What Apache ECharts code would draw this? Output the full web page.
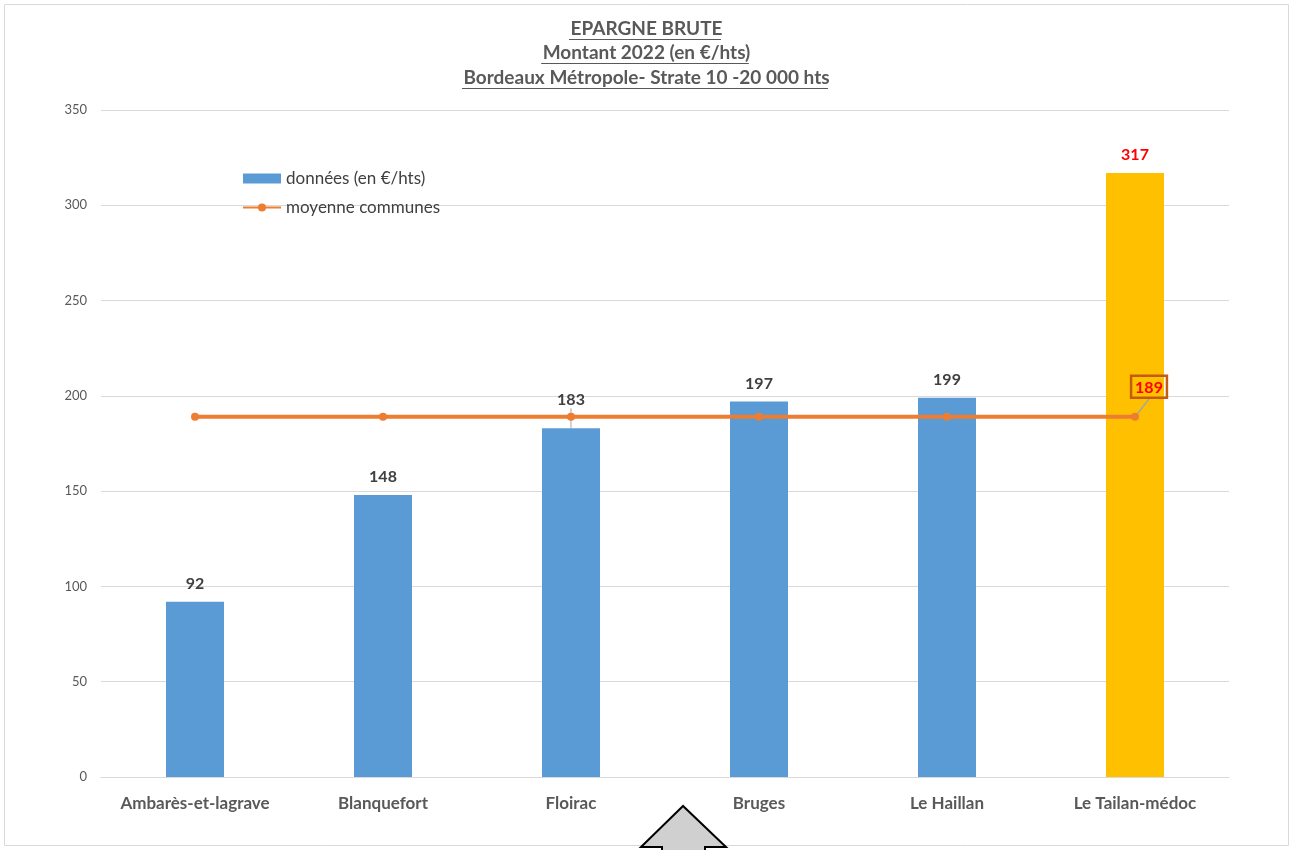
<!DOCTYPE html>
<html>
<head>
<meta charset="utf-8">
<script src="https://cdn.jsdelivr.net/npm/echarts@6/dist/echarts.min.js"></script>
<style>
  html, body { margin: 0; padding: 0; background: #fff; }
  #chart { width: 1293px; height: 850px; }
</style>
</head>
<body>
<div id="chart"></div>
<script>
// Épargne brute 2022 par commune (€/habitant)
const communes = ['Ambarès-et-lagrave', 'Blanquefort', 'Floirac', 'Bruges', 'Le Haillan', 'Le Tailan-médoc'];
const donnees = [92, 148, 183, 197, 199, 317];
const moyenne = [189, 189, 189, 189, 189, 189];
const titleLines = ['EPARGNE BRUTE', 'Montant 2022 (en €/hts)', 'Bordeaux Métropole- Strate 10 -20 000 hts'];
const FONT = 'Lato, "Open Sans", sans-serif';

const chart = echarts.init(document.getElementById('chart'));

// underlined title lines
const ctx = document.createElement('canvas').getContext('2d');
ctx.font = 'bold 19px ' + FONT;
const titleY = [30, 54, 79];
const titleGraphics = [];
titleLines.forEach((t, i) => {
  const w = ctx.measureText(t).width;
  titleGraphics.push({
    type: 'text', left: 'center', top: titleY[i] - 11,
    style: { text: t, fill: '#595959', font: 'bold 19px ' + FONT }
  });
  titleGraphics.push({
    type: 'line',
    shape: { x1: 645 - w / 2, y1: titleY[i] + 9.5, x2: 645 + w / 2, y2: titleY[i] + 9.5 },
    style: { stroke: '#595959', lineWidth: 1 }
  });
});

const barData = donnees.map((v, i) => {
  if (i === donnees.length - 1) {
    return { value: v, itemStyle: { color: '#ffc000' }, label: { color: '#ff0000' } };
  }
  if (i === 2) {
    return { value: v, labelLine: { show: true } };
  }
  return v;
});

const lineData = moyenne.map((v, i) => i === moyenne.length - 1
  ? {
      value: v,
      label: {
        show: true, position: 'top', color: '#ff0000', fontWeight: 'bold', fontSize: 16,
        fontFamily: FONT, borderColor: '#c55a11', borderWidth: 2.5, padding: [4, 4, 2, 4]
      },
      labelLine: { show: true }
    }
  : v);

chart.setOption({
  animation: false,
  graphic: [
    { type: 'rect', shape: { x: 4.5, y: 4.5, width: 1284, height: 841 },
      style: { fill: 'none', stroke: '#d9d9d9', lineWidth: 1 } },
    ...titleGraphics,
    { type: 'polygon', z: 100,
      shape: { points: [[683, 806], [641, 847], [662, 847], [662, 860], [705, 860], [705, 847], [726, 847]] },
      style: { fill: '#d0d0d0', stroke: '#000', lineWidth: 2 } }
  ],
  legend: {
    orient: 'vertical', left: 237, top: 165, itemGap: 12,
    itemWidth: 38, itemHeight: 10,
    textStyle: { color: '#404040', fontSize: 17, fontFamily: FONT },
    data: [
      { name: 'données (en €/hts)', icon: 'rect' },
      { name: 'moyenne communes' }
    ]
  },
  grid: { left: 101, right: 64, top: 110, bottom: 73 },
  xAxis: {
    type: 'category', data: communes,
    axisLine: { lineStyle: { color: '#d9d9d9', width: 1 } },
    axisTick: { show: false },
    axisLabel: { interval: 0, color: '#595959', fontWeight: 'bold', fontSize: 17, fontFamily: FONT, margin: 18 }
  },
  yAxis: {
    type: 'value', min: 0, max: 350, interval: 50,
    axisLine: { show: false }, axisTick: { show: false },
    splitLine: { lineStyle: { color: '#d9d9d9', width: 1 } },
    axisLabel: { color: '#595959', fontSize: 13, fontFamily: FONT, margin: 14 }
  },
  series: [
    {
      name: 'données (en €/hts)', type: 'bar', data: barData, barWidth: 58,
      itemStyle: { color: '#5b9bd5' },
      label: { show: true, position: 'top', distance: 10, color: '#404040', fontWeight: 'bold', fontSize: 16, fontFamily: FONT },
      labelLayout: p => p.dataIndex === 2 ? { dy: -10 } : {},
      labelLine: { show: false, length2: 0, lineStyle: { color: '#a6a6a6', width: 1 } }
    },
    {
      name: 'moyenne communes', type: 'line', data: lineData,
      color: '#ed7d31', lineStyle: { width: 4, color: '#ed7d31' },
      symbol: 'circle', symbolSize: 8, itemStyle: { color: '#ed7d31' },
      labelLayout: p => p.dataIndex === 5 ? { dx: 14, dy: -10 } : {},
      labelLine: { show: false, lineStyle: { color: '#a6a6a6', width: 1.5 } },
      z: 3
    }
  ]
});
</script>
</body>
</html>
